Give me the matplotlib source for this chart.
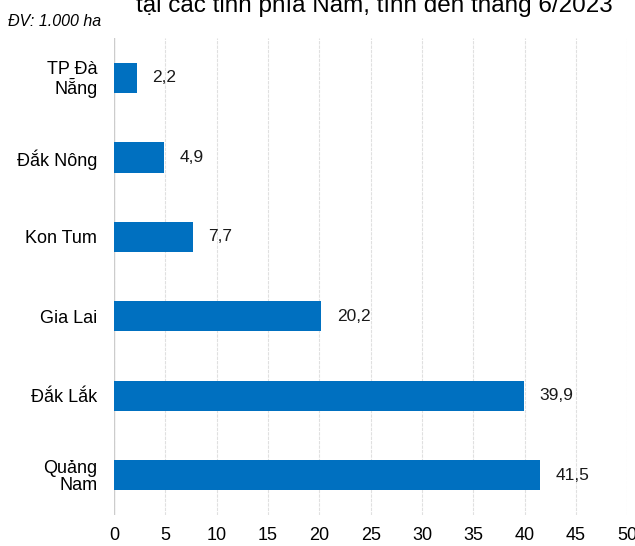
import matplotlib.pyplot as plt

plt.rcParams['font.family'] = ['Liberation Sans', 'DejaVu Sans']

provinces = ['TP Đà\nNẵng', 'Đắk Nông', 'Kon Tum', 'Gia Lai', 'Đắk Lắk', 'Quảng\nNam']
areas = [2.2, 4.9, 7.7, 20.2, 39.9, 41.5]
value_labels = ['2,2', '4,9', '7,7', '20,2', '39,9', '41,5']
x_ticks = [0, 5, 10, 15, 20, 25, 30, 35, 40, 45, 50]

fig = plt.figure(figsize=(6.35, 5.46), dpi=100)
ax = fig.add_axes([0.1795, 0.0568, 0.8085, 0.8732])

ypos = list(range(len(provinces)))
ax.barh(ypos, areas, height=0.38, color='#0070C0', zorder=3)
for y, v, lab in zip(ypos, areas, value_labels):
    ax.text(v + 1.5, y, lab, va='center', ha='left', fontsize=12.5, color='#1a1a1a')

ax.set_ylim(5.5, -0.5)
ax.set_xlim(0, 50)
ax.set_yticks(ypos)
ax.set_yticklabels(provinces, fontsize=13, linespacing=1.0)
ax.set_xticks(x_ticks)
ax.set_xticklabels([str(t) for t in x_ticks], fontsize=13)
ax.tick_params(axis='y', length=0, pad=12)
ax.tick_params(axis='x', length=0, pad=9)
ax.grid(axis='x', color='#e0e0e0', linewidth=0.8, linestyle=(0, (3, 1)), zorder=0)
for s in ax.spines.values():
    s.set_visible(False)
ax.axvline(0, color='#cccccc', linewidth=1, zorder=2)

# the first line of the title lies above the frame in the reference
fig.text(0.59, 0.978, 'tại các tỉnh phía Nam, tính đến tháng 6/2023',
         ha='center', va='baseline', fontsize=17.5)
fig.text(0.013, 0.96, 'ĐV: 1.000 ha', ha='left', va='center',
         fontsize=11.5, style='italic')

fig.savefig('out.png', dpi=100)
